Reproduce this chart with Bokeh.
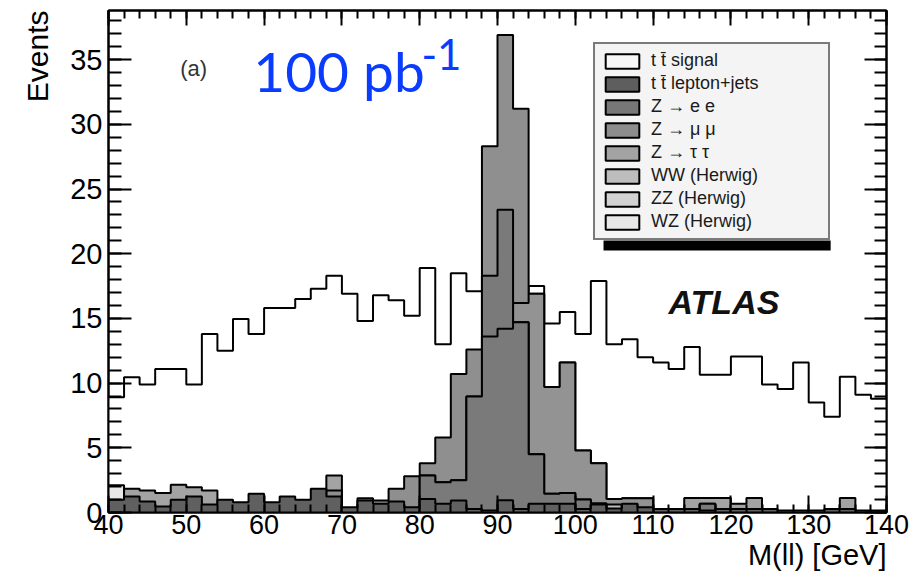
import math
from bokeh.plotting import figure
from bokeh.models import (Range1d, LinearAxis, SingleIntervalTicker, Label, Title,
                          Legend, LegendItem, BoxAnnotation)
from bokeh.embed import file_html
from bokeh.resources import INLINE

# ---------------- data (2 GeV bins, 40 -> 140 GeV) ----------------
bin_edges = [40 + 2 * i for i in range(51)]

signal = [8.9, 10.45, 9.9, 11.1, 11.1, 9.9, 13.8, 12.5, 14.95, 13.8,
          15.8, 15.8, 16.5, 17.3, 18.3, 16.9, 14.8, 16.8, 16.4, 15.2,
          18.9, 13.0, 18.5, 17.1, 17.0, 16.5, 17.0, 17.5, 14.6, 15.5,
          13.8, 17.9, 13.0, 13.4, 12.0, 11.6, 11.1, 12.8, 10.65, 10.65,
          12.05, 12.05, 9.9, 9.55, 11.6, 8.5, 7.4, 10.5, 9.1, 8.8]

ttbar_ljets = [0.98, 1.24, 0.85, 0.46, 0.98, 1.24, 0.62, 0.98, 0.8, 1.44,
               0.8, 1.24, 0.98, 1.83, 1.24, 0.41, 0.93, 0.67, 0.85, 0.41,
               1.05, 0.67, 0.93, 0.28, 0.15, 0.95, 0.28, 0.67, 0.67, 0.67,
               0.28, 0.62, 0.3, 0.67, 0.41, 0.28, 0.28, 0.28, 0.15, 0.28,
               0.28, 0.28, 0.28, 0.15, 0.15, 0.15, 0.28, 0.28, 0.15, 0.15]

z_ee_outer = [0, 0, 0, 0, 0, 0, 0, 0, 0, 0,
              0, 0, 0, 0, 0, 0, 0, 0, 0, 0,
              2.86, 2.34, 2.5, 8.96, 18.3, 23.4, 14.7, 4.5, 1.44, 1.5,
              1.0, 0.7, 0, 0, 0, 0, 0, 0, 0.67, 0,
              0, 0, 0, 0, 0, 0, 0, 0, 0, 0]

z_ee_inner = [0, 0, 0, 0, 0, 0, 0, 0, 0, 0,
              0, 0, 0, 0, 0, 0, 0, 0, 0, 0,
              2.86, 2.34, 2.5, 8.96, 13.6, 14.2, 14.7, 4.5, 1.44, 1.5,
              1.0, 0.7, 0, 0, 0, 0, 0, 0, 0.67, 0,
              0, 0, 0, 0, 0, 0, 0, 0, 0, 0]

z_mumu_outer = [0, 0, 0, 0, 0, 0, 0, 0, 0, 0,
                0, 0, 0, 0, 1.7, 0, 1.1, 0.93, 1.83, 2.8,
                3.8, 5.8, 10.7, 12.6, 28.3, 36.9, 31.2, 16.9, 9.7, 11.6,
                4.8, 3.8, 1.05, 1.1, 1.1, 0.28, 0.28, 0, 0, 0,
                0, 0, 0, 0, 0, 0, 0, 0, 0, 0]

z_mumu_inner = [0, 0, 0, 0, 0, 0, 0, 0, 0, 0,
                0, 0, 0, 0, 0, 0, 0, 0, 0, 0,
                0, 0, 0, 0, 0, 0, 16.2, 16.9, 9.7, 11.6,
                4.8, 3.8, 1.05, 1.1, 1.1, 0.28, 0.28, 0, 0, 0,
                0, 0, 0, 0, 0, 0, 0, 0, 0, 0]

z_tautau = [0, 1.83, 1.7, 1.5, 2.14, 1.96, 1.7, 0, 0, 0,
            0, 0, 0, 0, 2.86, 0, 0, 0, 0, 0,
            0, 0, 0, 0, 0, 0, 0, 0, 0, 0,
            0, 0, 0, 0, 0, 0, 0, 1.13, 1.13, 1.13,
            0.67, 1.13, 0, 0, 0, 0, 0, 1.13, 0, 0]

ww = [0, 0, 0, 0, 0, 0, 0, 0, 0, 0,
      0, 0, 0, 0, 0, 0, 0, 0, 0, 0,
      0, 0, 0, 0, 0, 0, 0, 0, 0, 0,
      0, 0, 0.62, 0, 0, 0, 0, 0, 0, 0,
      0, 0, 0, 0, 0, 0, 0, 0, 0, 0]

zz = [0] * 50

wz = [2.1, 0, 0, 0, 0, 0, 0, 0, 0, 0,
      0, 0, 0, 0, 0, 0, 0, 0, 0, 0,
      0, 0, 0, 0, 0, 0, 0, 0, 0, 0,
      0, 0, 0, 0, 0, 0, 0, 0, 0, 0,
      0, 0, 0, 0, 0, 0, 0, 0, 0, 0]

legend_labels = ["t t\u0304 signal", "t t\u0304 lepton+jets", "Z \u2192 e e",
                 "Z \u2192 \u03bc \u03bc", "Z \u2192 \u03c4 \u03c4",
                 "WW (Herwig)", "ZZ (Herwig)", "WZ (Herwig)"]
legend_colors = ["#f7f7f7", "#5e5e5e", "#777777", "#8d8d8d", "#a3a3a3",
                 "#bdbdbd", "#d2d2d2", "#e8e8e8"]
legend_series = [signal, ttbar_ljets, z_ee_outer, z_mumu_outer, z_tautau, ww, zz, wz]

# ---------------- figure ----------------
p = figure(width=923, height=580, x_range=Range1d(40, 140), y_range=Range1d(0, 38.8),
           output_backend="svg", toolbar_location=None,
           min_border_left=108, min_border_right=37, min_border_top=10, min_border_bottom=68)
p.grid.visible = False
p.outline_line_color = "black"
p.outline_line_width = 2
p.background_fill_color = "white"
p.border_fill_color = "white"

bottom_ax = p.below[0]
left_ax = p.left[0]


def hist(vals, color):
    ys = list(vals) + [vals[-1]]
    zeros = [0] * len(ys)
    p.varea_step(x=bin_edges, y1=zeros, y2=ys, step_mode="after", fill_color=color)
    p.step(x=bin_edges, y=ys, mode="after", line_color="black", line_width=2)


hist(signal, "#ffffff")
hist(wz, legend_colors[7])
hist(z_tautau, legend_colors[4])
hist(z_mumu_outer, "#8f8f8f")
hist(z_mumu_inner, "#939393")
hist(z_ee_outer, "#7a7a7a")
hist(z_ee_inner, "#7a7a7a")
hist(ww, legend_colors[5])
hist(zz, legend_colors[6])
hist(ttbar_ljets, "#606060")

# ---------------- axes ----------------
TICK_FONT = "Liberation Sans"
xt = SingleIntervalTicker(interval=10, num_minor_ticks=5)
yt = SingleIntervalTicker(interval=5, num_minor_ticks=5)
bottom_ax.ticker = xt
left_ax.ticker = yt

top_ax = LinearAxis(ticker=xt)
right_ax = LinearAxis(ticker=yt)
p.add_layout(top_ax, "above")
p.add_layout(right_ax, "right")

for ax, maj, mino in [(bottom_ax, 17, 8), (top_ax, 15, 8), (left_ax, 23, 13), (right_ax, 22, 12)]:
    ax.major_tick_in = maj
    ax.major_tick_out = 0
    ax.minor_tick_in = mino
    ax.minor_tick_out = 0
    ax.major_tick_line_width = 2
    ax.minor_tick_line_width = 2
    ax.major_tick_line_color = "black"
    ax.minor_tick_line_color = "black"
    ax.axis_line_color = "black"
    ax.axis_line_width = 2
    ax.major_label_text_font = TICK_FONT
    ax.major_label_text_color = "black"

bottom_ax.major_label_text_font_size = "27px"
left_ax.major_label_text_font_size = "29px"
top_ax.major_label_text_font_size = "0px"
right_ax.major_label_text_font_size = "0px"
top_ax.major_label_standoff = 0
right_ax.major_label_standoff = 0
bottom_ax.major_label_standoff = 2
left_ax.major_label_standoff = 6

# axis titles (ROOT style: at the ends of the axes)
p.add_layout(Title(text="Events", align="right", text_font=TICK_FONT,
                   text_font_size="30px", text_font_style="normal", text_color="black",
                   standoff=27, offset=0), "left")
p.add_layout(Title(text="M(ll) [GeV]", align="right", text_font=TICK_FONT,
                   text_font_size="29px", text_font_style="normal", text_color="black",
                   standoff=0, offset=0), "below")


# pixel helpers for annotation placement
def gx(px):
    return 40 + (px - 108.3) / 7.775


def gy(py):
    return (512 - py) / 12.938


def base(py, fs):
    # compensate the renderer's baseline placement
    return gy(py - 0.4 * fs)


# ---------------- texts ----------------
p.add_layout(Label(x=gx(180), y=base(77, 22), text="(a)",
                   text_align="left", text_baseline="alphabetic",
                   text_font=TICK_FONT, text_font_size="22px", text_color="#333333"))
p.add_layout(Label(x=gx(253), y=base(93, 55), text="100 pb",
                   text_align="left", text_baseline="alphabetic",
                   text_font="Lato", text_font_size="55px", text_color="#0a3cff"))
p.add_layout(Label(x=gx(421), y=base(71, 42), text="-1",
                   text_align="left", text_baseline="alphabetic",
                   text_font="Lato", text_font_size="42px", text_color="#0a3cff"))
p.add_layout(Label(x=gx(668), y=base(315, 34), text="ATLAS",
                   text_align="left", text_baseline="alphabetic",
                   text_font=TICK_FONT, text_font_size="34px", text_font_style="bold italic",
                   text_color="#111111"))

# ---------------- legend ----------------
p.add_layout(BoxAnnotation(left=gx(603), right=gx(830), bottom=gy(250), top=gy(240),
                           fill_color="black", fill_alpha=1, line_color=None))
items = []
for lab, col, vals in zip(legend_labels, legend_colors, legend_series):
    r = p.quad(left=bin_edges[:-1], right=bin_edges[1:], bottom=0, top=vals,
               fill_color=col, line_color="black", line_width=2, visible=False)
    items.append(LegendItem(label=lab, renderers=[r]))

leg = Legend(items=items, location=(485, 272), orientation="vertical",
             padding=6, spacing=2, glyph_width=42, glyph_height=18, label_height=18,
             label_standoff=8, label_width=171, margin=0,
             border_line_color="black", border_line_width=2,
             background_fill_color="#f4f4f4", background_fill_alpha=1,
             label_text_font=TICK_FONT, label_text_font_size="18px",
             label_text_color="#1a1a1a",
             inactive_fill_alpha=0)
p.add_layout(leg, "center")

open("out.html", "w").write(file_html(p, INLINE))
